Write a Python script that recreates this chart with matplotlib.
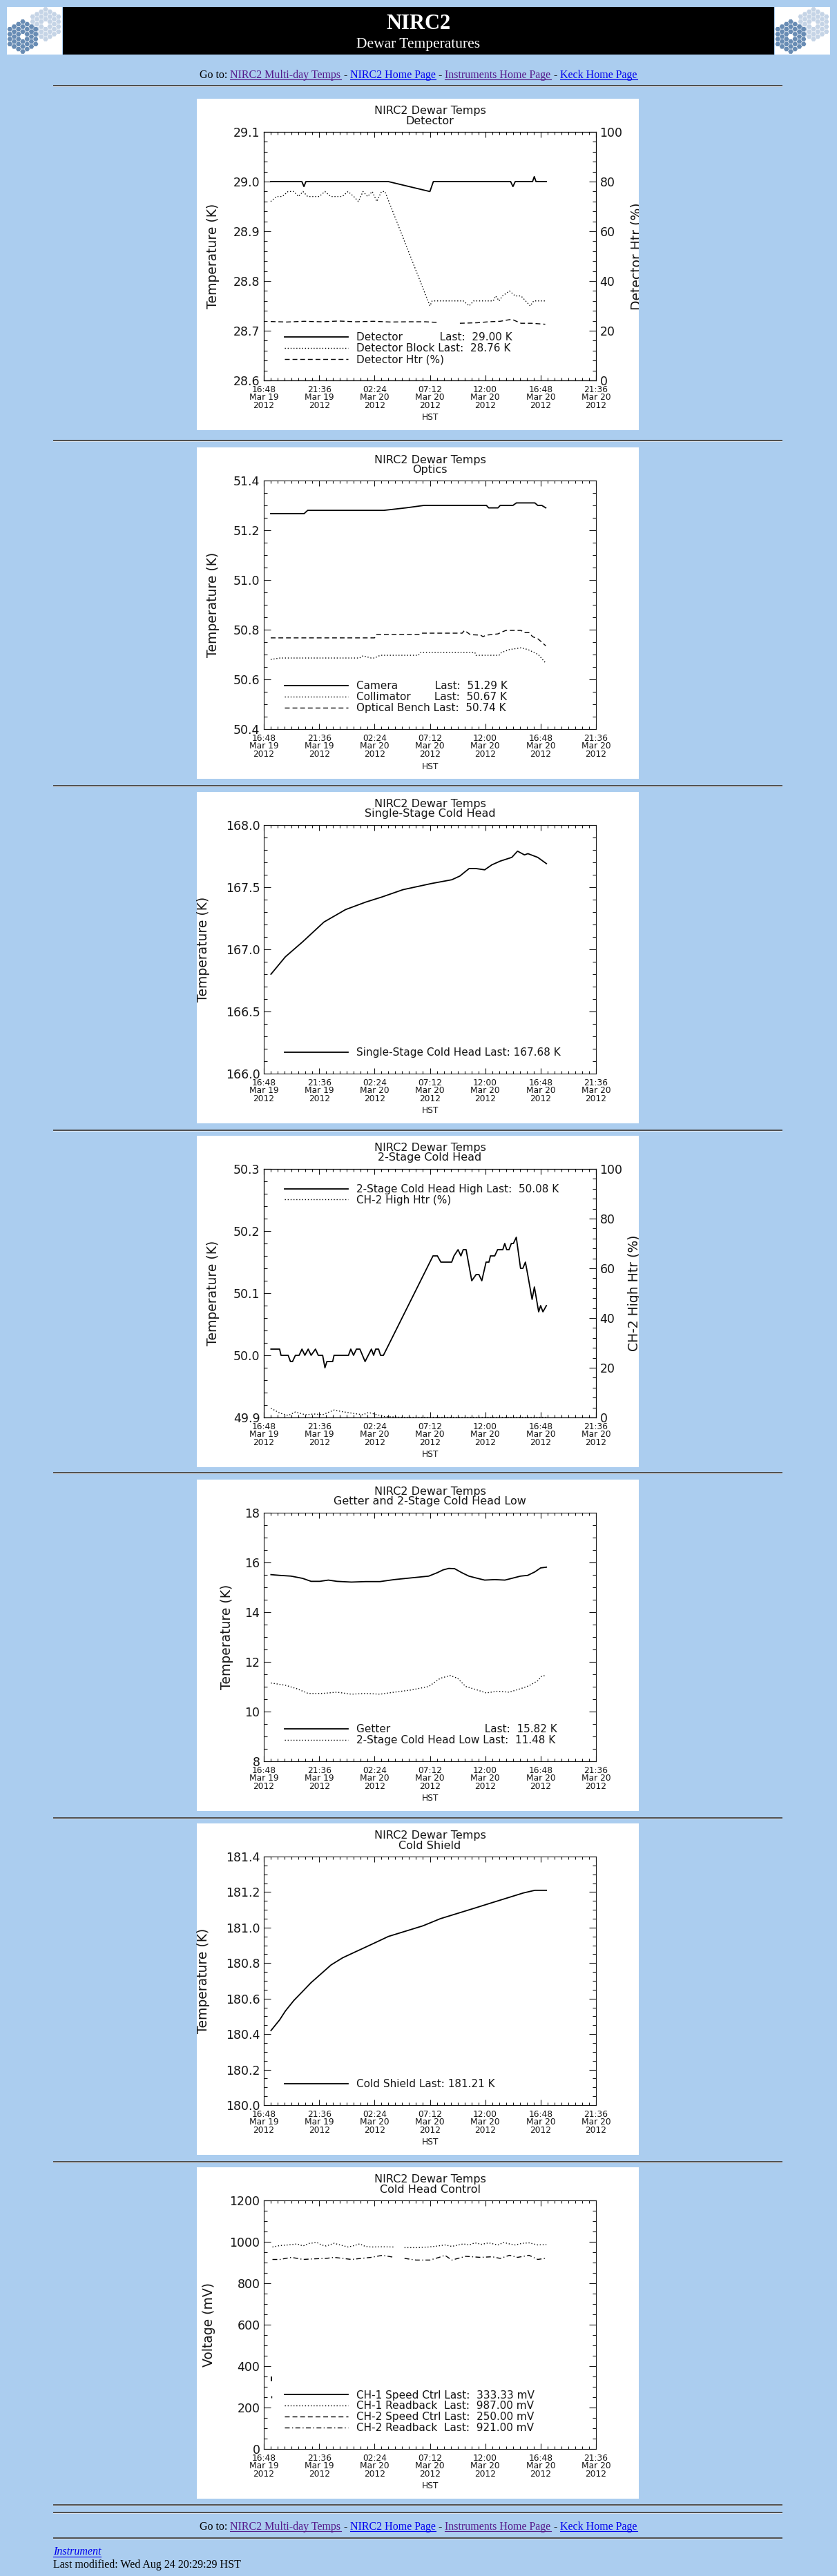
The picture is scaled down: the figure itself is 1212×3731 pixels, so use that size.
import numpy as np
import matplotlib
matplotlib.use("Agg")
import matplotlib.pyplot as plt
from matplotlib.patches import Rectangle, RegularPolygon
from matplotlib.ticker import MultipleLocator, FormatStrFormatter
from matplotlib.transforms import Bbox, TransformedBbox
from matplotlib.textpath import TextToPath
from matplotlib.font_manager import FontProperties

nan = np.nan

# page size in pixels
W, H = 1212, 3731
BG = '#abcdef'
INK = '#151515'

# time axis: hours after 16:48 Mar 19 2012 (HST)
xtick_hours = [0, 4.8, 9.6, 14.4, 19.2, 24.0, 28.8]
xtick_labels = ["16:48\nMar 19\n2012", "21:36\nMar 19\n2012", "02:24\nMar 20\n2012",
                "07:12\nMar 20\n2012", "12:00\nMar 20\n2012", "16:48\nMar 20\n2012",
                "21:36\nMar 20\n2012"]

# --- Detector panel ---
det_t = [0.6, 3.3, 3.48, 3.65, 10.8, 14.4, 14.7, 21.4, 21.6, 21.8, 23.3, 23.45, 23.6, 24.5]
det_v = [29.00, 29.00, 28.99, 29.00, 29.00, 28.98, 29.00, 29.00, 28.99, 29.00, 29.00, 29.01, 29.00, 29.00]
detblk_t = [0.6, 1.1, 1.6, 2.1, 2.6, 3.0, 3.4, 3.8, 4.3, 4.8, 5.3, 5.8, 6.3, 6.8, 7.3,
            7.8, 8.2, 8.6, 9.0, 9.4, 9.8, 10.2, 10.5, 14.4, 14.6, 15.5, 16.5, 17.3, 17.8,
            18.2, 19.0, 19.9, 20.1, 20.4, 20.7, 21.3, 21.8, 22.3, 22.7, 23.1, 23.4, 24.4]
detblk_v = [28.96, 28.97, 28.97, 28.98, 28.98, 28.97, 28.98, 28.97, 28.97, 28.97, 28.98,
            28.97, 28.97, 28.97, 28.98, 28.97, 28.96, 28.98, 28.97, 28.98, 28.96, 28.98,
            28.98, 28.75, 28.76, 28.76, 28.76, 28.76, 28.75, 28.76, 28.76, 28.76, 28.77,
            28.76, 28.77, 28.78, 28.77, 28.77, 28.76, 28.75, 28.76, 28.76]
htr_t = [0.6, 2.0, 3.5, 5.0, 6.5, 8.0, 9.5, 11.0, 12.5, 14.0, 15.2, 15.3, 17.0, 18.5,
         19.5, 20.5, 21.5, 22.3, 23.2, 24.4]
htr_v = [23.7, 23.5, 23.8, 23.6, 23.9, 23.6, 23.8, 23.5, 23.6, 23.6, 23.3, nan, 23.0,
         23.2, 23.6, 23.8, 24.6, 23.0, 23.0, 22.6]

# --- Optics panel ---
cam_t = [0.6, 3.5, 3.8, 10.4, 12.3, 13.9, 19.3, 19.5, 20.3, 20.5, 21.6, 21.9, 23.5, 23.75, 24.1, 24.45]
cam_v = [51.267, 51.267, 51.28, 51.28, 51.29, 51.30, 51.30, 51.29, 51.29, 51.30, 51.30,
         51.31, 51.31, 51.30, 51.30, 51.29]
coll_t = [0.6, 1.4, 8.3, 8.6, 9.3, 9.6, 10.1, 13.4, 13.6, 18.3, 18.4, 20.4, 20.6, 21.3,
          22.3, 22.9, 23.8, 24.45]
coll_v = [50.68, 50.686, 50.686, 50.695, 50.686, 50.686, 50.697, 50.697, 50.708, 50.708,
          50.697, 50.697, 50.708, 50.72, 50.727, 50.72, 50.70, 50.665]
bench_t = [0.6, 9.6, 9.8, 13.5, 13.7, 17.2, 17.4, 17.9, 18.8, 19.0, 19.3, 20.3, 20.6,
           21.0, 22.3, 22.6, 23.0, 23.3, 23.8, 24.45]
bench_v = [50.767, 50.767, 50.781, 50.781, 50.786, 50.786, 50.797, 50.78, 50.778, 50.772,
           50.778, 50.783, 50.79, 50.797, 50.797, 50.788, 50.788, 50.772, 50.762, 50.735]

# --- Single-stage cold head ---
ss_t = [0.62, 1.87, 3.36, 5.22, 7.09, 8.83, 10.2, 12.06, 14.55, 16.3, 17.0, 17.8, 18.4,
        19.15, 19.77, 20.5, 21.5, 22.0, 22.6, 22.9, 23.75, 24.5]
ss_v = [166.80, 166.94, 167.06, 167.22, 167.32, 167.38, 167.42, 167.48, 167.53, 167.56,
        167.59, 167.65, 167.65, 167.64, 167.68, 167.71, 167.74, 167.79, 167.76, 167.77,
        167.74, 167.69]

# --- 2-stage cold head ---
ch2_t = [0.62, 1.37, 1.49, 2.11, 2.31, 2.49, 2.74, 3.06, 3.31, 3.56,
         3.85, 4.10, 4.48, 4.72, 5.10, 5.30, 5.47, 5.97, 6.09, 7.34,
         7.54, 7.78, 8.03, 8.33, 8.78, 9.33, 9.52, 9.70, 9.95, 10.12,
         10.37, 14.67, 15.05, 15.35, 16.29, 16.49, 16.84, 17.09, 17.29, 17.54,
         18.03, 18.41, 18.65, 18.90, 19.27, 19.52, 19.65, 20.02, 20.27, 20.72,
         20.89, 21.06, 21.26, 21.46, 21.64, 21.89, 22.26, 22.46, 22.68, 22.88,
         23.26, 23.46, 23.83, 24.0, 24.2, 24.5]
ch2_v = [50.01, 50.01, 50.00, 50.00, 49.99, 49.99, 50.00, 50.00, 50.01, 50.00,
         50.01, 50.00, 50.01, 50.00, 50.00, 49.98, 49.99, 49.99, 50.00, 50.00,
         50.01, 50.00, 50.01, 50.01, 49.99, 50.01, 50.00, 50.01, 50.01, 50.00,
         50.00, 50.16, 50.16, 50.15, 50.15, 50.16, 50.17, 50.16, 50.17, 50.17,
         50.12, 50.13, 50.13, 50.12, 50.15, 50.15, 50.16, 50.16, 50.17, 50.17,
         50.18, 50.17, 50.17, 50.18, 50.18, 50.19, 50.14, 50.14, 50.15, 50.13,
         50.09, 50.11, 50.07, 50.08, 50.07, 50.08]
ch2htr_t = [0.62, 1.37, 2.11, 2.74, 3.6, 4.35, 5.1, 6.1, 6.84, 7.83, 8.58, 9.08, 9.82,
            10.45, 12.2, 24.5]
ch2htr_v = [3.7, 1.8, 0.8, 2.2, 1.1, 1.4, 1.1, 3.0, 2.3, 1.6, 1.1, 2.0, 1.1, 0.4, 0.0, 0.0]

# --- Getter and 2-stage low ---
get_t = [0.62, 1.37, 2.36, 3.36, 4.10, 4.85, 5.6, 6.34, 7.59, 8.83, 10.07, 11.3, 12.8,
         14.3, 15.05, 15.54, 16.04, 16.54, 17.16, 17.78, 18.53, 19.15, 20.02, 20.9, 21.5,
         22.26, 22.88, 23.5, 24.0, 24.5]
get_v = [15.51, 15.48, 15.45, 15.36, 15.24, 15.24, 15.29, 15.24, 15.21, 15.23, 15.23,
         15.31, 15.38, 15.45, 15.59, 15.70, 15.76, 15.75, 15.59, 15.45, 15.36, 15.29,
         15.31, 15.29, 15.36, 15.45, 15.48, 15.62, 15.78, 15.81]
low_t = [0.62, 1.87, 2.86, 3.85, 5.1, 6.34, 7.59, 8.83, 10.07, 11.3, 12.8, 14.3, 15.3,
         16.16, 16.8, 17.5, 18.5, 19.27, 20.27, 21.26, 22.26, 23.0, 23.75, 24.1, 24.45]
low_v = [11.15, 11.06, 10.92, 10.73, 10.73, 10.78, 10.70, 10.73, 10.70, 10.78, 10.87,
         11.01, 11.34, 11.45, 11.34, 11.01, 10.87, 10.75, 10.82, 10.78, 10.92, 11.04,
         11.24, 11.43, 11.45]

# --- Cold shield ---
cs_t = [0.62, 1.37, 1.87, 2.61, 3.36, 4.10, 4.97, 5.84, 6.84, 7.83, 8.83, 9.82, 10.8,
        12.3, 13.8, 15.3, 16.8, 18.3, 19.77, 21.26, 22.5, 23.5, 24.5]
cs_v = [180.42, 180.48, 180.53, 180.59, 180.64, 180.69, 180.74, 180.79, 180.83, 180.86,
        180.89, 180.92, 180.95, 180.98, 181.01, 181.05, 181.08, 181.11, 181.14, 181.17,
        181.195, 181.21, 181.21]

# --- Cold head control (mV) ---
ch1sp_t = [0.65, 0.65]
ch1sp_v = [330, 347]
ch2sp_t = [0.65, 0.65]
ch2sp_v = [247, 258]
ch1rb_t = [0.75, 1.4, 2.1, 2.9, 3.4, 3.9, 4.6, 5.0, 5.4, 6.1, 6.6, 7.3, 7.9, 8.3, 8.8,
           9.3, 10.3, 11.3, 11.4, 12.2, 13.3, 14.3, 15.1, 15.7, 16.3, 17.3, 17.8, 18.3,
           18.9, 19.5, 20.3, 20.8, 21.3, 21.8, 22.4, 23.0, 23.75, 24.5]
ch1rb_v = [975, 982, 985, 990, 980, 992, 997, 985, 980, 993, 985, 975, 983, 990, 978,
           975, 976, 975, nan, 972, 972, 975, 980, 985, 978, 990, 985, 995, 988, 995,
           985, 997, 990, 985, 993, 995, 985, 987]
ch2rb_t = [0.75, 1.4, 2.4, 3.4, 4.4, 5.4, 6.1, 7.6, 9.3, 10.3, 11.3, 11.5, 12.2, 13.2,
           14.4, 15.2, 15.7, 16.3, 17.5, 18.8, 19.8, 20.5, 21.3, 22.0, 23.0, 23.75, 24.5]
ch2rb_v = [915, 915, 925, 915, 918, 920, 925, 915, 925, 935, 925, nan, 920, 912, 912,
           925, 935, 912, 930, 925, 928, 920, 935, 925, 935, 915, 921]

SOLID = dict(color='black', lw=1.3, ls='-')
DOT = dict(color='black', lw=1.0, ls=(0, (1, 2)))
DASH = dict(color='black', lw=1.0, ls=(0, (5, 3)))
DASHDOT = dict(color='black', lw=1.0, ls=(0, (5, 2.5, 1, 2.5)))

SERIF = 'Liberation Serif'
LEG_FP = FontProperties(family='DejaVu Sans', size=11)
ttp = TextToPath()


def text_w(s, fp):
    # width in pixels, the bar keeps trailing spaces counted
    a = ttp.get_text_width_height_descent(s + '|', fp, False)[0]
    b = ttp.get_text_width_height_descent('|', fp, False)[0]
    return (a - b) * 100 / 72


def pad_names(names):
    sp = text_w('a a', LEG_FP) - text_w('aa', LEG_FP)
    target = max(text_w(n, LEG_FP) for n in names)
    out = []
    for n in names:
        s = n
        while text_w(s, LEG_FP) + sp <= target + 0.5 * sp:
            s += ' '
        out.append(s)
    return out


fig = plt.figure(figsize=(W / 100, H / 100), dpi=100)
fig.patch.set_facecolor(BG)
page = fig.add_axes([0, 0, 1, 1])
page.set_xlim(0, W)
page.set_ylim(H, 0)
page.axis('off')

# header banner and logos
page.add_patch(Rectangle((91, 10), 1030, 69, fc='black', ec='none'))
page.text(606, 41.5, 'NIRC2', color='white', fontsize=22, fontweight='bold',
          family=SERIF, ha='center', va='baseline')
page.text(606, 69, 'Dewar Temperatures', color='white', fontsize=15.5,
          family=SERIF, ha='center', va='baseline')


def draw_logo(x0, y0):
    box = Rectangle((x0, y0), 80, 69, fc='white', ec='none')
    page.add_patch(box)
    R = 4.16
    for cx, cy, col in [(x0 + 56, y0 + 25, '#c5d4e6'), (x0 + 23, y0 + 43, '#688cb4')]:
        for q in range(-3, 4):
            for r in range(-3, 4):
                d = max(abs(q), abs(r), abs(q + r))
                if d == 0 or d > 3:
                    continue
                hx = cx + 1.5 * R * q
                hy = cy + np.sqrt(3) * R * (r + q / 2)
                hp = RegularPolygon((hx, hy), 6, radius=R * 0.9, orientation=np.pi / 6,
                                    fc=col, ec='none')
                page.add_patch(hp)
                hp.set_clip_path(box)


draw_logo(10, 10)
draw_logo(1122, 10)

LINK_FP = FontProperties(family=SERIF, size=11.5)
VISITED = '#551a8b'
LINK = '#0000ee'
link_segments = [("Go to: ", 'black', False), ("NIRC2 Multi-day Temps", VISITED, True),
                 (" - ", 'black', False), ("NIRC2 Home Page", LINK, True),
                 (" - ", 'black', False), ("Instruments Home Page", VISITED, True),
                 (" - ", 'black', False), ("Keck Home Page", LINK, True)]


def draw_links(baseline):
    full = ''.join(s for s, _, _ in link_segments)
    x0 = 606 - text_w(full, LINK_FP) / 2
    prefix = ''
    for s, col, under in link_segments:
        x = x0 + text_w(prefix, LINK_FP)
        page.text(x, baseline, s, color=col, fontproperties=LINK_FP, ha='left', va='baseline')
        if under:
            page.plot([x, x + text_w(s, LINK_FP)], [baseline + 2, baseline + 2], color=col, lw=0.8)
        prefix += s


def hr(y):
    page.add_patch(Rectangle((77, y - 1), 1056, 2, fc='#505050', ec='none'))
    page.add_patch(Rectangle((77, y + 1), 1056, 1, fc='#dbe6f2', ec='none'))


draw_links(113)
for y in [124, 638, 1138, 1637, 2133, 2633, 3131, 3628, 3639]:
    hr(y)
draw_links(3664)
hr(3676)
fp_it = FontProperties(family=SERIF, size=11.5, style='italic')
page.text(77, 3700, 'Instrument', color=LINK, fontproperties=fp_it, va='baseline')
page.plot([77, 77 + text_w('Instrument', fp_it)], [3702.5, 3702.5], color=LINK, lw=0.8)
page.text(77, 3719, 'Last modified: Wed Aug 24 20:29:29 HST', color='black',
          fontproperties=LINK_FP, va='baseline')

panel_tops = [143, 648, 1147, 1645, 2143, 2641, 3139]


def make_axes(top, subtitle):
    page.add_patch(Rectangle((285, top), 640, 480, fc='white', ec='none'))
    clip = TransformedBbox(Bbox([[285, top], [925, top + 480]]), page.transData)
    ax = fig.add_axes([382 / W, 1 - (top + 48 + 360) / H, 481 / W, 360 / H])
    ax.set_xlim(0, 28.8)
    ax.set_xticks(xtick_hours)
    ax.set_xticklabels(xtick_labels, fontsize=8.8, linespacing=0.85)
    ax.xaxis.set_minor_locator(MultipleLocator(0.6))
    ax.tick_params(which='both', direction='in', top=True, right=True, colors=INK, width=0.8)
    ax.tick_params(axis='x', which='major', length=6, pad=5)
    ax.tick_params(axis='x', which='minor', length=3)
    ax.tick_params(axis='y', which='major', length=7.5, labelsize=12.5, pad=4)
    ax.tick_params(axis='y', which='minor', length=3.6)
    for s in ax.spines.values():
        s.set_linewidth(0.8)
        s.set_color(INK)
    ax.text(0.5, 1 + 30 / 360, 'NIRC2 Dewar Temps', transform=ax.transAxes,
            ha='center', va='center', fontsize=11.5, color=INK)
    ax.text(0.5, 1 + 16 / 360, subtitle, transform=ax.transAxes,
            ha='center', va='center', fontsize=11.5, color=INK)
    ax.text(0.5, -54 / 360, 'HST', transform=ax.transAxes,
            ha='center', va='center', fontsize=8.8, color=INK)
    return ax, clip


def set_y(ax, lo, hi, major, minor, fmt):
    ax.set_ylim(lo, hi)
    ax.yaxis.set_major_locator(MultipleLocator(major))
    ax.yaxis.set_minor_locator(MultipleLocator(minor))
    ax.yaxis.set_major_formatter(FormatStrFormatter(fmt))


def left_label(ax, text, dist):
    ax.set_ylabel(text, fontsize=13.5, va='center', color=INK)
    ax.yaxis.set_label_coords(-dist / 481, 0.5)


def right_axis(ax, text, dist, clip):
    ax2 = ax.twinx()
    set_y(ax2, 0, 100, 20, 4, '%d')
    ax2.tick_params(which='both', direction='in', colors=INK, width=0.8)
    ax2.tick_params(axis='y', which='major', length=7.5, labelsize=12.5, pad=4)
    ax2.tick_params(axis='y', which='minor', length=3.6)
    ax2.set_ylabel(text, fontsize=13.5, va='center', color=INK)
    ax2.yaxis.set_label_coords(1 + dist / 481, 0.5)
    ax2.yaxis.label.set_clip_box(clip)
    ax2.yaxis.label.set_clip_on(True)
    ax2.set_xlim(0, 28.8)
    return ax2


def add_legend(ax, handles, labels, where='lower'):
    kw = dict(frameon=False, prop=LEG_FP, handlelength=6, handletextpad=0.8,
              labelspacing=0.05, borderpad=0, borderaxespad=0, handleheight=0.7)
    if where == 'lower':
        leg = ax.legend(handles, labels, loc='lower left', bbox_to_anchor=(30 / 481, 23 / 360), **kw)
    else:
        leg = ax.legend(handles, labels, loc='upper left', bbox_to_anchor=(30 / 481, 1 - 22 / 360), **kw)
    for t in leg.get_texts():
        t.set_color(INK)


# Panel 1: Detector
ax, clip = make_axes(panel_tops[0], 'Detector')
set_y(ax, 28.6, 29.1, 0.1, 0.02, '%.1f')
left_label(ax, 'Temperature (K)', 73)
l1, = ax.plot(det_t, det_v, **SOLID)
l2, = ax.plot(detblk_t, detblk_v, **DOT)
ax2 = right_axis(ax, 'Detector Htr (%)', 59, clip)
l3, = ax2.plot(htr_t, htr_v, **DASH)
n = pad_names(['Detector', 'Detector Block'])
add_legend(ax2, [l1, l2, l3], [n[0] + ' Last:  29.00 K', n[1] + ' Last:  28.76 K',
                               'Detector Htr (%)'])

# Panel 2: Optics
ax, clip = make_axes(panel_tops[1], 'Optics')
set_y(ax, 50.4, 51.4, 0.2, 0.05, '%.1f')
left_label(ax, 'Temperature (K)', 73)
l1, = ax.plot(cam_t, cam_v, **SOLID)
l2, = ax.plot(coll_t, coll_v, **DOT)
l3, = ax.plot(bench_t, bench_v, **DASH)
n = pad_names(['Camera', 'Collimator', 'Optical Bench'])
add_legend(ax, [l1, l2, l3], [n[0] + ' Last:  51.29 K', n[1] + ' Last:  50.67 K',
                              n[2] + ' Last:  50.74 K'])

# Panel 3: Single-Stage Cold Head
ax, clip = make_axes(panel_tops[2], 'Single-Stage Cold Head')
set_y(ax, 166.0, 168.0, 0.5, 0.1, '%.1f')
left_label(ax, 'Temperature (K)', 87)
l1, = ax.plot(ss_t, ss_v, **SOLID)
add_legend(ax, [l1], ['Single-Stage Cold Head Last: 167.68 K'])

# Panel 4: 2-Stage Cold Head
ax, clip = make_axes(panel_tops[3], '2-Stage Cold Head')
set_y(ax, 49.9, 50.3, 0.1, 0.02, '%.1f')
left_label(ax, 'Temperature (K)', 73)
l1, = ax.plot(ch2_t, ch2_v, **SOLID)
ax2 = right_axis(ax, 'CH-2 High Htr (%)', 56, clip)
l2, = ax2.plot(ch2htr_t, ch2htr_v, **DOT)
add_legend(ax2, [l1, l2], ['2-Stage Cold Head High Last:  50.08 K', 'CH-2 High Htr (%)'],
           where='upper')

# Panel 5: Getter and 2-Stage Cold Head Low
ax, clip = make_axes(panel_tops[4], 'Getter and 2-Stage Cold Head Low')
set_y(ax, 8, 18, 2, 0.5, '%d')
left_label(ax, 'Temperature (K)', 54)
l1, = ax.plot(get_t, get_v, **SOLID)
l2, = ax.plot(low_t, low_v, **DOT)
n = pad_names(['Getter', '2-Stage Cold Head Low'])
add_legend(ax, [l1, l2], [n[0] + ' Last:  15.82 K', n[1] + ' Last:  11.48 K'])

# Panel 6: Cold Shield
ax, clip = make_axes(panel_tops[5], 'Cold Shield')
set_y(ax, 180.0, 181.4, 0.2, 0.05, '%.1f')
left_label(ax, 'Temperature (K)', 87)
l1, = ax.plot(cs_t, cs_v, **SOLID)
add_legend(ax, [l1], ['Cold Shield Last: 181.21 K'])

# Panel 7: Cold Head Control
ax, clip = make_axes(panel_tops[6], 'Cold Head Control')
set_y(ax, 0, 1200, 200, 50, '%d')
left_label(ax, 'Voltage (mV)', 79)
l1, = ax.plot(ch1sp_t, ch1sp_v, **SOLID)
l2, = ax.plot(ch1rb_t, ch1rb_v, **DOT)
l3, = ax.plot(ch2sp_t, ch2sp_v, **DASH)
l4, = ax.plot(ch2rb_t, ch2rb_v, **DASHDOT)
n = pad_names(['CH-1 Speed Ctrl', 'CH-1 Readback', 'CH-2 Speed Ctrl', 'CH-2 Readback'])
add_legend(ax, [l1, l2, l3, l4], [n[0] + ' Last:  333.33 mV', n[1] + ' Last:  987.00 mV',
                                  n[2] + ' Last:  250.00 mV', n[3] + ' Last:  921.00 mV'])

fig.savefig('out.png', dpi=100, facecolor=BG)
